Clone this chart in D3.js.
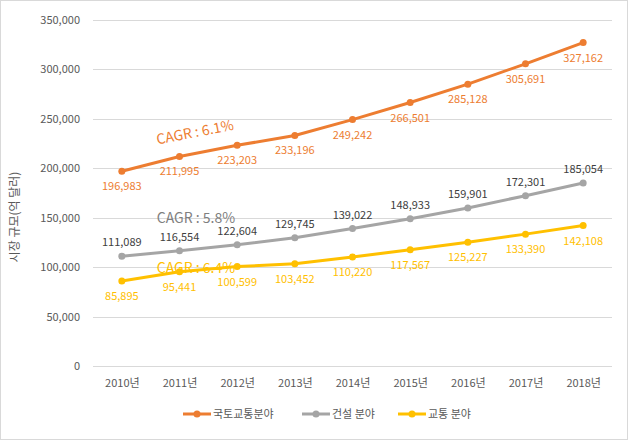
<!DOCTYPE html>
<html><head><meta charset="utf-8">
<script src="https://cdn.jsdelivr.net/npm/d3@7"></script>
<style>body{margin:0;background:#fff}svg{display:block}text{font-family:"Noto Sans CJK KR","Noto Sans",sans-serif}</style>
</head><body>
<script>
const years = ["2010년","2011년","2012년","2013년","2014년","2015년","2016년","2017년","2018년"];
const seriesNames = ["국토교통분야","건설 분야","교통 분야"];
const national = [196983,211995,223203,233196,249242,266501,285128,305691,327162];
const construction = [111089,116554,122604,129745,139022,148933,159901,172301,185054];
const transport = [85895,95441,100599,103452,110220,117567,125227,133390,142108];
const yTicks = [0,50000,100000,150000,200000,250000,300000,350000];
const cagrLabels = ["CAGR : 6.1%","CAGR : 5.8%","CAGR : 6.4%"];
const colors = ["#ED7D31","#A5A5A5","#FFC000"];
const labelColors = ["#ED7D31","#404040","#FFC000"];

const W=632,H=441;
const svg=d3.select("body").append("svg").attr("width",W).attr("height",H);
svg.append("rect").attr("x",0.5).attr("y",0.5).attr("width",627).attr("height",439).attr("fill","#fff").attr("stroke","#d9d9d9");

const x=d3.scalePoint().domain(years).range([93,612]).padding(0.5);
const y=d3.scaleLinear().domain([0,350000]).range([366,20]);
const fmt=d3.format(",");

// grid
svg.append("g").selectAll("line").data(yTicks).join("line")
  .attr("x1",93).attr("x2",612).attr("y1",d=>Math.round(y(d))+0.5).attr("y2",d=>Math.round(y(d))+0.5)
  .attr("stroke","#d9d9d9").attr("stroke-width",1);

// y axis
const ya=svg.append("g").attr("transform","translate(84,0)")
  .call(d3.axisLeft(y).tickValues(yTicks).tickFormat(fmt).tickSize(0).tickPadding(4));
ya.select(".domain").remove();
ya.selectAll("text").attr("fill","#595959").style("font-size","11px").style("font-family",'"Noto Sans CJK KR",sans-serif');

// x axis
const xa=svg.append("g").attr("transform","translate(0,377)")
  .call(d3.axisBottom(x).tickSize(0).tickPadding(2));
xa.select(".domain").remove();
xa.selectAll("text").attr("fill","#595959").style("font-size","11px").style("font-family",'"Noto Sans CJK KR",sans-serif');

// y title
svg.append("text").attr("transform","translate(19,217) rotate(-90)").attr("text-anchor","middle")
  .attr("fill","#595959").style("font-size","12px").text("시장 규모(억 달러)");

const data=[national,construction,transport];
const widths=[3,3,3];
const labelDy=[19,-10,19];
const line=d3.line().x((d,i)=>x(years[i])).y(d=>y(d));
data.forEach((s,k)=>{
  svg.append("path").datum(s).attr("d",line).attr("fill","none").attr("stroke",colors[k]).attr("stroke-width",widths[k]).attr("stroke-linejoin","round");
  svg.append("g").selectAll("circle").data(s).join("circle")
    .attr("cx",(d,i)=>x(years[i])).attr("cy",d=>y(d)).attr("r",3.5).attr("fill",colors[k]);
  svg.append("g").selectAll("text").data(s).join("text")
    .attr("x",(d,i)=>x(years[i])).attr("y",d=>y(d)+labelDy[k])
    .attr("text-anchor","middle").attr("fill",labelColors[k]).style("font-size","11px").text(d=>fmt(d));
});

// CAGR annotations
svg.append("text").attr("transform","translate(196,137) rotate(-11)").attr("text-anchor","middle")
  .attr("fill","#ED7D31").style("font-size","14px").text(cagrLabels[0]);
svg.append("text").attr("x",196).attr("y",223).attr("text-anchor","middle")
  .attr("fill","#7F7F7F").style("font-size","14px").text(cagrLabels[1]);
svg.append("text").attr("x",196).attr("y",273).attr("text-anchor","middle")
  .attr("fill","#FFC000").style("font-size","14px").text(cagrLabels[2]);

// legend
const legX=[183,302,398];
seriesNames.forEach((n,k)=>{
  const g=svg.append("g").attr("transform",`translate(${legX[k]},414)`);
  g.append("line").attr("x1",0).attr("x2",28).attr("stroke",colors[k]).attr("stroke-width",3);
  g.append("circle").attr("cx",14).attr("r",3.5).attr("fill",colors[k]);
  g.append("text").attr("x",30).attr("y",4).attr("fill","#595959").style("font-size","11px").text(n);
});
</script>
</body></html>
